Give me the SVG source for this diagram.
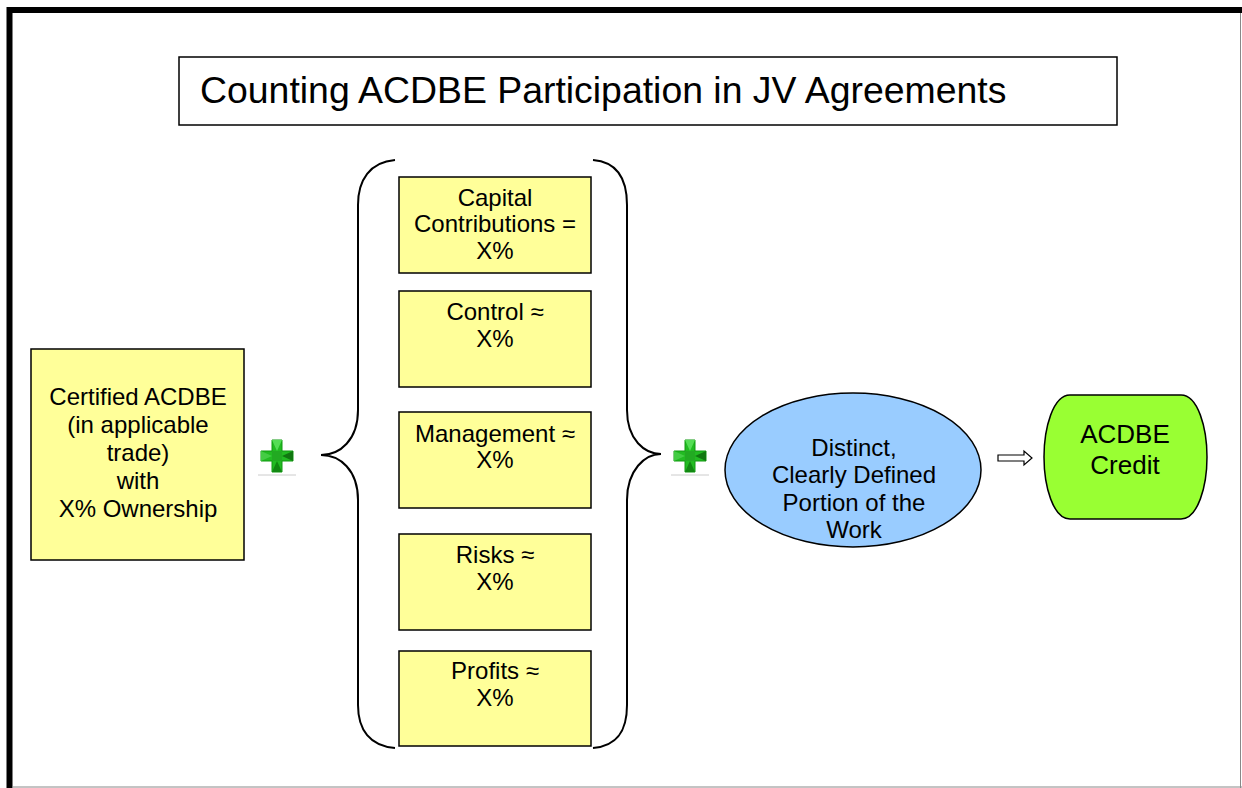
<svg xmlns="http://www.w3.org/2000/svg" width="1242" height="788" viewBox="0 0 1242 788">
<defs>
<style>
.t{font-family:"Liberation Sans",Arial,sans-serif;fill:#000;text-anchor:middle}
.y{fill:#FFFF99;stroke:#000;stroke-width:1.5}
.br{fill:none;stroke:#000;stroke-width:2}
</style>
<g id="plus">
<polygon points="-5,-16 5,-16 5,-5 16,-5 16,5 5,5 5,16 -5,16 -5,5 -16,5 -16,-5 -5,-5" fill="#22BB22" stroke="#119911" stroke-width="1"/>
<polygon points="-5,-16 5,-16 0,-5" fill="#55DD55"/>
<polygon points="-16,-5 -16,5 -5,0" fill="#44CC44"/>
<polygon points="16,-5 16,5 5,0" fill="#117711"/>
<polygon points="-5,16 5,16 0,5" fill="#118811"/>
<polygon points="-5,-5 5,-5 5,5 -5,5" fill="#22AA22"/>
<line x1="-19" y1="19" x2="19" y2="19" stroke="#ccc" stroke-width="1"/>
</g>
</defs>
<rect width="1242" height="788" fill="#fff"/>
<g id="frame">
<line x1="7" y1="10" x2="1242" y2="10" stroke="#000" stroke-width="6"/>
<line x1="9.5" y1="7" x2="9.5" y2="788" stroke="#000" stroke-width="6"/>
<line x1="1240.5" y1="13" x2="1240.5" y2="788" stroke="#888" stroke-width="1"/>
<line x1="12" y1="787" x2="1242" y2="787" stroke="#888" stroke-width="1"/>
</g>
<g id="title">
<rect x="179" y="57" width="938" height="68" fill="#fff" stroke="#000" stroke-width="1.5"/>
<text x="200" y="103" class="t" style="text-anchor:start;font-size:37.4px">Counting ACDBE Participation in JV Agreements</text>
</g>
<g id="certified">
<rect x="31" y="349" width="213" height="211" class="y"/>
<text class="t" font-size="24"><tspan x="138" y="405">Certified ACDBE</tspan><tspan x="138" y="433">(in applicable</tspan><tspan x="138" y="461">trade)</tspan><tspan x="138" y="489">with</tspan><tspan x="138" y="517">X% Ownership</tspan></text>
</g>
<g id="plus1"><use href="#plus" x="277" y="456"/></g>
<g id="connectors">
<path class="br" d="M395,160 C370,162 358,180 358,205 L358,410 C358,440 340,455 321,455 C340,455 358,470 358,500 L358,705 C358,730 370,746 395,748"/>
<path class="br" d="M593,160 C618,162 627,180 627,205 L627,410 C627,440 645,454 661,454 C645,454 627,470 627,500 L627,705 C627,730 618,746 593,748"/>
<polygon points="998,455 1024,455 1024,451 1032,458 1024,465 1024,461 998,461" fill="#fff" stroke="#000" stroke-width="1.2"/>
</g>
<g id="capital">
<rect x="399" y="177" width="192" height="96" class="y"/>
<text class="t" font-size="24"><tspan x="495" y="206">Capital</tspan><tspan x="495" y="232">Contributions =</tspan><tspan x="495" y="259">X%</tspan></text>
</g>
<g id="control">
<rect x="399" y="291" width="192" height="96" class="y"/>
<text class="t" font-size="24"><tspan x="495" y="320">Control ≈</tspan><tspan x="495" y="347">X%</tspan></text>
</g>
<g id="management">
<rect x="399" y="412" width="192" height="96" class="y"/>
<text class="t" font-size="24"><tspan x="495" y="442">Management ≈</tspan><tspan x="495" y="468">X%</tspan></text>
</g>
<g id="risks">
<rect x="399" y="534" width="192" height="96" class="y"/>
<text class="t" font-size="24"><tspan x="495" y="563">Risks ≈</tspan><tspan x="495" y="590">X%</tspan></text>
</g>
<g id="profits">
<rect x="399" y="651" width="192" height="95" class="y"/>
<text class="t" font-size="24"><tspan x="495" y="679">Profits ≈</tspan><tspan x="495" y="706">X%</tspan></text>
</g>
<g id="plus2"><use href="#plus" x="690" y="456"/></g>
<g id="distinct">
<ellipse cx="853" cy="470" rx="128" ry="77" fill="#99CCFF" stroke="#000" stroke-width="1.5"/>
<text class="t" font-size="24"><tspan x="854" y="456">Distinct,</tspan><tspan x="854" y="483">Clearly Defined</tspan><tspan x="854" y="511">Portion of the</tspan><tspan x="854" y="538">Work</tspan></text>
</g>
<g id="credit">
<path d="M1070,395 L1181,395 C1198,395 1207,428 1207,457 C1207,486 1198,519 1181,519 L1070,519 C1053,519 1044,486 1044,457 C1044,428 1053,395 1070,395 Z" fill="#99FF33" stroke="#000" stroke-width="1.5"/>
<text class="t" font-size="26"><tspan x="1125" y="443">ACDBE</tspan><tspan x="1125" y="474">Credit</tspan></text>
</g>
</svg>
